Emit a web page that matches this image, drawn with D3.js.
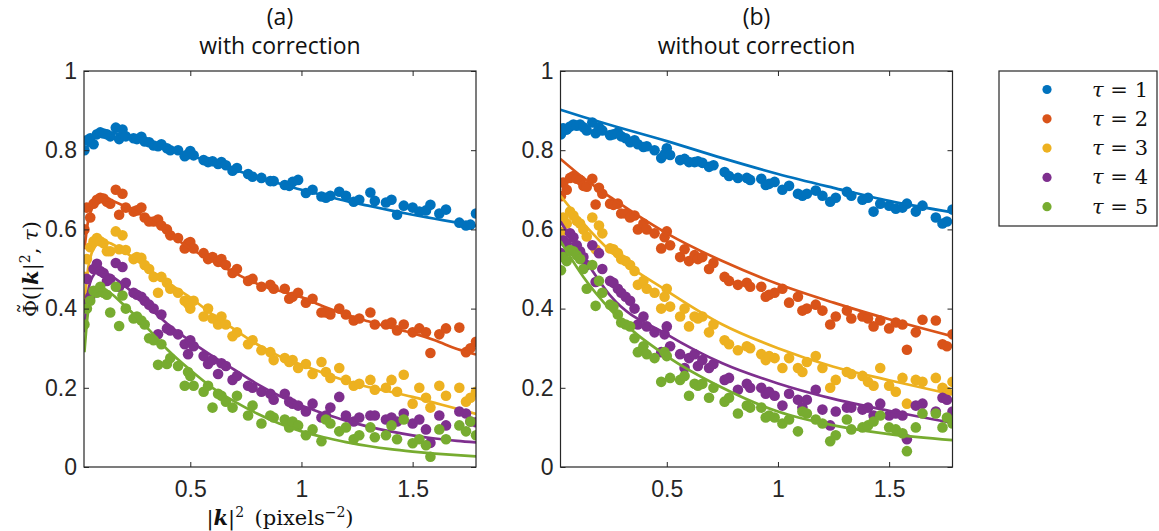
<!DOCTYPE html>
<html>
<head>
<meta charset="utf-8">
<script src="https://cdn.jsdelivr.net/npm/d3@7"></script>
<style>
  body { margin: 0; background: #fff; }
  svg { display: block; }
</style>
</head>
<body>
<div id="chart"></div>
<script>
// shared |k|^2 grid (pixels^-2)
var kk = [0.024, 0.035, 0.05, 0.065, 0.08, 0.095, 0.11, 0.125, 0.14, 0.165, 0.18, 0.195, 0.21, 0.245, 0.26, 0.28, 0.295, 0.315, 0.335, 0.355,
  0.37, 0.395, 0.41, 0.445, 0.475, 0.49, 0.5, 0.515, 0.56, 0.58, 0.6, 0.625, 0.64, 0.66, 0.69, 0.71, 0.76, 0.78, 0.82, 0.86,
  0.875, 0.925, 0.945, 0.96, 0.985, 1.02, 1.05, 1.09, 1.11, 1.13, 1.17, 1.2, 1.235, 1.26, 1.31, 1.33, 1.38, 1.405, 1.43, 1.46,
  1.5, 1.53, 1.56, 1.58, 1.62, 1.65, 1.71, 1.74, 1.76, 1.785];

// (a) with correction - measured points
var a_t1 = [0.80, 0.825, 0.83, 0.815, 0.84, 0.845, 0.842, 0.84, 0.835, 0.857, 0.828, 0.852, 0.835, 0.83, 0.828, 0.834, 0.822, 0.82, 0.812, 0.81,
  0.815, 0.805, 0.80, 0.80, 0.785, 0.79, 0.798, 0.787, 0.775, 0.77, 0.772, 0.765, 0.77, 0.762, 0.748, 0.755, 0.74, 0.733, 0.73, 0.722,
  0.722, 0.712, 0.71, 0.72, 0.725, 0.692, 0.70, 0.683, 0.68, 0.685, 0.695, 0.685, 0.67, 0.675, 0.693, 0.672, 0.668, 0.675, 0.637, 0.66,
  0.655, 0.645, 0.648, 0.662, 0.64, 0.65, 0.617, 0.61, 0.612, 0.64];
var a_t2 = [0.60, 0.655, 0.63, 0.665, 0.675, 0.68, 0.678, 0.67, 0.665, 0.70, 0.637, 0.69, 0.655, 0.645, 0.648, 0.655, 0.63, 0.62, 0.62, 0.625,
  0.61, 0.60, 0.585, 0.578, 0.552, 0.565, 0.568, 0.552, 0.54, 0.525, 0.53, 0.518, 0.525, 0.51, 0.49, 0.50, 0.47, 0.475, 0.455, 0.46,
  0.45, 0.45, 0.425, 0.43, 0.44, 0.415, 0.425, 0.39, 0.39, 0.385, 0.40, 0.385, 0.37, 0.375, 0.39, 0.36, 0.36, 0.365, 0.345, 0.36,
  0.34, 0.35, 0.34, 0.288, 0.335, 0.35, 0.352, 0.29, 0.30, 0.316];
var a_t3 = [0.48, 0.525, 0.555, 0.57, 0.578, 0.57, 0.565, 0.545, 0.545, 0.595, 0.55, 0.585, 0.548, 0.525, 0.53, 0.528, 0.51, 0.50, 0.48, 0.44,
  0.48, 0.465, 0.45, 0.44, 0.42, 0.412, 0.40, 0.42, 0.38, 0.40, 0.375, 0.36, 0.38, 0.36, 0.33, 0.34, 0.31, 0.32, 0.295, 0.29,
  0.27, 0.275, 0.265, 0.27, 0.25, 0.26, 0.235, 0.265, 0.24, 0.225, 0.25, 0.22, 0.205, 0.21, 0.22, 0.195, 0.20, 0.22, 0.19, 0.233,
  0.16, 0.20, 0.175, 0.15, 0.205, 0.18, 0.20, 0.165, 0.175, 0.19];
var a_t4 = [0.41, 0.475, 0.43, 0.50, 0.513, 0.495, 0.49, 0.47, 0.475, 0.515, 0.455, 0.505, 0.465, 0.44, 0.435, 0.43, 0.42, 0.41, 0.40, 0.335,
  0.385, 0.35, 0.345, 0.335, 0.31, 0.285, 0.32, 0.305, 0.28, 0.26, 0.27, 0.235, 0.262, 0.255, 0.22, 0.23, 0.205, 0.20, 0.19, 0.185,
  0.17, 0.185, 0.165, 0.16, 0.155, 0.14, 0.16, 0.125, 0.13, 0.15, 0.177, 0.13, 0.115, 0.125, 0.13, 0.13, 0.12, 0.125, 0.115, 0.135,
  0.11, 0.12, 0.095, 0.061, 0.13, 0.105, 0.14, 0.135, 0.115, 0.113];
var a_t5 = [0.36, 0.40, 0.42, 0.445, 0.44, 0.455, 0.44, 0.435, 0.39, 0.455, 0.356, 0.433, 0.40, 0.375, 0.38, 0.37, 0.36, 0.325, 0.32, 0.258,
  0.31, 0.26, 0.275, 0.255, 0.205, 0.24, 0.23, 0.205, 0.19, 0.205, 0.15, 0.185, 0.18, 0.165, 0.15, 0.18, 0.13, 0.155, 0.11, 0.13,
  0.125, 0.12, 0.10, 0.115, 0.105, 0.08, 0.095, 0.065, 0.12, 0.11, 0.09, 0.10, 0.07, 0.08, 0.1, 0.075, 0.08, 0.105, 0.07, 0.12,
  0.06, 0.07, 0.055, 0.026, 0.095, 0.07, 0.105, 0.09, 0.115, 0.08];

// (b) without correction - measured points
var b_t1 = [0.84, 0.855, 0.852, 0.86, 0.865, 0.862, 0.865, 0.858, 0.85, 0.87, 0.843, 0.858, 0.85, 0.838, 0.84, 0.845, 0.835, 0.83, 0.82, 0.825,
  0.815, 0.808, 0.81, 0.80, 0.78, 0.79, 0.805, 0.788, 0.775, 0.778, 0.77, 0.77, 0.772, 0.768, 0.758, 0.762, 0.745, 0.735, 0.73, 0.73,
  0.725, 0.728, 0.712, 0.715, 0.72, 0.70, 0.71, 0.69, 0.685, 0.69, 0.698, 0.685, 0.67, 0.68, 0.695, 0.685, 0.675, 0.68, 0.645, 0.665,
  0.66, 0.652, 0.655, 0.665, 0.645, 0.66, 0.63, 0.615, 0.62, 0.65];
var b_t2 = [0.684, 0.718, 0.70, 0.73, 0.735, 0.728, 0.725, 0.71, 0.708, 0.728, 0.663, 0.705, 0.69, 0.665, 0.662, 0.665, 0.64, 0.64, 0.63, 0.635,
  0.60, 0.615, 0.60, 0.59, 0.552, 0.58, 0.595, 0.56, 0.53, 0.55, 0.52, 0.535, 0.525, 0.53, 0.50, 0.515, 0.48, 0.47, 0.46, 0.465,
  0.455, 0.455, 0.43, 0.435, 0.44, 0.45, 0.415, 0.43, 0.395, 0.40, 0.41, 0.395, 0.36, 0.38, 0.395, 0.375, 0.38, 0.375, 0.355, 0.37,
  0.35, 0.365, 0.36, 0.296, 0.34, 0.372, 0.37, 0.31, 0.305, 0.335];
var b_t3 = [0.593, 0.63, 0.615, 0.645, 0.635, 0.622, 0.615, 0.60, 0.582, 0.63, 0.55, 0.61, 0.59, 0.552, 0.55, 0.54, 0.525, 0.52, 0.51, 0.495,
  0.46, 0.47, 0.45, 0.44, 0.40, 0.43, 0.45, 0.405, 0.38, 0.40, 0.355, 0.38, 0.375, 0.38, 0.34, 0.36, 0.32, 0.31, 0.295, 0.305,
  0.30, 0.285, 0.27, 0.28, 0.275, 0.25, 0.275, 0.25, 0.24, 0.265, 0.28, 0.25, 0.20, 0.22, 0.24, 0.235, 0.23, 0.215, 0.205, 0.25,
  0.205, 0.19, 0.225, 0.16, 0.22, 0.215, 0.225, 0.20, 0.19, 0.215];
var b_t4 = [0.54, 0.572, 0.565, 0.59, 0.58, 0.56, 0.545, 0.53, 0.51, 0.56, 0.467, 0.54, 0.50, 0.47, 0.465, 0.45, 0.44, 0.43, 0.42, 0.40,
  0.36, 0.38, 0.355, 0.34, 0.29, 0.335, 0.355, 0.305, 0.285, 0.25, 0.275, 0.285, 0.255, 0.27, 0.25, 0.26, 0.22, 0.225, 0.195, 0.21,
  0.20, 0.20, 0.185, 0.19, 0.18, 0.155, 0.185, 0.17, 0.15, 0.17, 0.195, 0.145, 0.105, 0.14, 0.15, 0.15, 0.145, 0.15, 0.13, 0.16,
  0.13, 0.135, 0.13, 0.07, 0.155, 0.16, 0.14, 0.175, 0.17, 0.14];
var b_t5 = [0.497, 0.53, 0.52, 0.548, 0.545, 0.535, 0.525, 0.50, 0.45, 0.51, 0.407, 0.47, 0.44, 0.41, 0.405, 0.385, 0.365, 0.36, 0.355, 0.325,
  0.29, 0.305, 0.285, 0.275, 0.215, 0.29, 0.28, 0.225, 0.22, 0.23, 0.18, 0.21, 0.205, 0.21, 0.175, 0.2, 0.165, 0.175, 0.135, 0.155,
  0.15, 0.15, 0.125, 0.13, 0.125, 0.11, 0.12, 0.09, 0.14, 0.135, 0.12, 0.11, 0.065, 0.08, 0.12, 0.095, 0.10, 0.105, 0.115, 0.13,
  0.10, 0.095, 0.085, 0.04, 0.10, 0.135, 0.135, 0.10, 0.125, 0.11];

// fitted curves, read at a few |k|^2 positions
var fitA_k = [0.024, 0.04, 0.06, 0.09, 0.12, 0.2, 0.3, 0.4, 0.5, 0.6, 0.7, 0.8, 0.9, 1.0, 1.1, 1.2, 1.3, 1.4, 1.5, 1.6, 1.7, 1.785];
var fitA_t1 = [0.79, 0.812, 0.83, 0.842, 0.845, 0.838, 0.825, 0.805, 0.787, 0.768, 0.75, 0.733, 0.716, 0.70, 0.686, 0.672, 0.66, 0.648, 0.637, 0.627, 0.617, 0.609];
var fitA_t2 = [0.55, 0.62, 0.655, 0.672, 0.675, 0.66, 0.63, 0.59, 0.552, 0.52, 0.49, 0.463, 0.445, 0.429, 0.405, 0.385, 0.368, 0.352, 0.338, 0.32, 0.298, 0.284];
var fitA_t3 = [0.41, 0.50, 0.545, 0.565, 0.568, 0.545, 0.505, 0.465, 0.428, 0.385, 0.347, 0.31, 0.28, 0.258, 0.237, 0.218, 0.202, 0.19, 0.177, 0.162, 0.147, 0.134];
var fitA_t4 = [0.34, 0.44, 0.48, 0.495, 0.49, 0.46, 0.41, 0.36, 0.318, 0.28, 0.245, 0.21, 0.18, 0.155, 0.135, 0.117, 0.102, 0.09, 0.08, 0.072, 0.066, 0.062];
var fitA_t5 = [0.29, 0.39, 0.43, 0.447, 0.445, 0.41, 0.355, 0.295, 0.245, 0.2, 0.165, 0.135, 0.11, 0.09, 0.075, 0.063, 0.053, 0.045, 0.039, 0.034, 0.03, 0.027];

var fitB_k = [0.022, 0.125, 0.25, 0.5, 0.75, 1.0, 1.25, 1.5, 1.785];
var fitB_t1 = [0.902, 0.884, 0.863, 0.823, 0.78, 0.74, 0.705, 0.672, 0.643];
var fitB_t2 = [0.778, 0.73, 0.68, 0.59, 0.52, 0.462, 0.415, 0.373, 0.33];
var fitB_t3 = [0.685, 0.615, 0.543, 0.445, 0.36, 0.30, 0.253, 0.219, 0.183];
var fitB_t4 = [0.62, 0.53, 0.43, 0.335, 0.262, 0.211, 0.172, 0.142, 0.111];
var fitB_t5 = [0.57, 0.48, 0.395, 0.28, 0.20, 0.14, 0.105, 0.083, 0.068];

var tauValues = ["1", "2", "3", "4", "5"];
var colors = ["#0072BD", "#D95319", "#EDB120", "#7E2F8E", "#77AC30"];
var panelLetters = ["(a)", "(b)"];
var panelTitles = ["with correction", "without correction"];
var xTicks = [0.5, 1, 1.5];
var xTickLabels = ["0.5", "1", "1.5"];
var yTicks = [0, 0.2, 0.4, 0.6, 0.8, 1];
var yTickLabels = ["0", "0.2", "0.4", "0.6", "0.8", "1"];
var xDomain = [0.022, 1.785];

var panelPts = [[a_t1, a_t2, a_t3, a_t4, a_t5], [b_t1, b_t2, b_t3, b_t4, b_t5]];
var panelFitK = [fitA_k, fitB_k];
var panelFit = [[fitA_t1, fitA_t2, fitA_t3, fitA_t4, fitA_t5], [fitB_t1, fitB_t2, fitB_t3, fitB_t4, fitB_t5]];

var W = 1159, H = 531;
var plotTop = 71, plotBottom = 467, ph = plotBottom - plotTop;
var lefts = [84, 560.5], pw = 392;
var axisColor = "#262626";
var sans = "'Liberation Sans', Arial, sans-serif";
var titleFont = "'Open Sans', 'Noto Sans', sans-serif";
var serif = "'DejaVu Serif', 'Liberation Serif', serif";

var svg = d3.select("#chart").append("svg")
  .attr("width", W).attr("height", H);

var defs = svg.append("defs");

panelPts.forEach(function(pts, p) {
  var x0 = lefts[p];
  var x = d3.scaleLinear().domain(xDomain).range([0, pw]);
  var y = d3.scaleLinear().domain([0, 1]).range([ph, 0]);
  var g = svg.append("g").attr("transform", "translate(" + x0 + "," + plotTop + ")");

  defs.append("clipPath").attr("id", "clip" + p)
    .append("rect").attr("width", pw).attr("height", ph);

  var plot = g.append("g").attr("clip-path", "url(#clip" + p + ")");
  var line = d3.line().curve(d3.curveMonotoneX)
    .x(function(d) { return x(d[0]); })
    .y(function(d) { return y(d[1]); });

  pts.forEach(function(vals, s) {
    plot.append("g").selectAll("circle")
      .data(kk.map(function(k, i) { return [k, vals[i]]; }))
      .enter().append("circle")
        .attr("cx", function(d) { return x(d[0]); })
        .attr("cy", function(d) { return y(d[1]); })
        .attr("r", 5.3)
        .attr("fill", colors[s]);
    plot.append("path")
      .datum(panelFitK[p].map(function(k, i) { return [k, panelFit[p][s][i]]; }))
      .attr("d", line)
      .attr("fill", "none")
      .attr("stroke", colors[s])
      .attr("stroke-width", 2.7);
  });

  // axes, ticks pointing inward
  var ax = g.append("g").attr("class", "axes");
  ax.append("g").attr("transform", "translate(0," + ph + ")")
    .call(d3.axisBottom(x).tickValues(xTicks).tickSize(-5).tickPadding(14)
      .tickFormat(function(d, i) { return xTickLabels[i]; }));
  ax.append("g")
    .call(d3.axisTop(x).tickValues(xTicks).tickSize(-5).tickFormat(""));
  ax.append("g")
    .call(d3.axisLeft(y).tickValues(yTicks).tickSize(-5).tickPadding(7)
      .tickFormat(function(d, i) { return yTickLabels[i]; }));
  ax.append("g").attr("transform", "translate(" + pw + ",0)")
    .call(d3.axisRight(y).tickValues(yTicks).tickSize(-5).tickFormat(""));
  ax.selectAll(".domain").remove();
  ax.selectAll(".tick line").attr("stroke", axisColor);
  ax.selectAll(".tick text").attr("fill", axisColor)
    .style("font-family", sans).style("font-size", "23px");
  g.append("rect").attr("width", pw).attr("height", ph)
    .attr("fill", "none").attr("stroke", axisColor).attr("stroke-width", 1.2);

  svg.append("text").attr("x", x0 + pw / 2).attr("y", 25)
    .attr("text-anchor", "middle").style("font-family", titleFont).style("font-size", "23px")
    .attr("fill", "#111").text(panelLetters[p]);
  svg.append("text").attr("x", x0 + pw / 2).attr("y", 54)
    .attr("text-anchor", "middle").style("font-family", titleFont).style("font-size", "23px")
    .attr("fill", "#111").text(panelTitles[p]);
});

// y label: Phi with a tilde on top
var yl = svg.append("text")
  .attr("transform", "translate(38," + ((plotTop + plotBottom) / 2) + ") rotate(-90)")
  .attr("text-anchor", "middle")
  .style("font-family", serif).style("font-size", "21px").attr("fill", "#111");
yl.append("tspan").text("\u03a6");
yl.append("tspan").attr("dx", -14).attr("dy", -5).text("\u02dc");
yl.append("tspan").attr("dx", 3).attr("dy", 5).text("(|");
yl.append("tspan").style("font-weight", "bold").style("font-style", "italic").text("k");
yl.append("tspan").text("|");
yl.append("tspan").attr("dy", -8).style("font-size", "14px").text("2");
yl.append("tspan").attr("dy", 8).text(", ");
yl.append("tspan").style("font-style", "italic").text("\u03c4");
yl.append("tspan").text(")");

// x label
var xl = svg.append("text")
  .attr("x", lefts[0] + pw / 2).attr("y", 525)
  .attr("text-anchor", "middle")
  .style("font-family", serif).style("font-size", "21px").attr("fill", "#111");
xl.append("tspan").text("|");
xl.append("tspan").style("font-weight", "bold").style("font-style", "italic").text("k");
xl.append("tspan").text("|");
xl.append("tspan").attr("dy", -8).style("font-size", "14px").text("2");
xl.append("tspan").attr("dy", 8).text("\u2002(pixels");
xl.append("tspan").attr("dy", -8).style("font-size", "14px").text("\u22122");
xl.append("tspan").attr("dy", 8).text(")");

// legend
var lg = svg.append("g").attr("transform", "translate(999,71)");
lg.append("rect").attr("width", 158).attr("height", 155)
  .attr("fill", "#fff").attr("stroke", axisColor).attr("stroke-width", 1.2);
tauValues.forEach(function(v, i) {
  var row = lg.append("g").attr("transform", "translate(0," + (18.5 + i * 29.3) + ")");
  row.append("circle").attr("cx", 48).attr("cy", 0).attr("r", 4.6).attr("fill", colors[i]);
  var t = row.append("text").attr("x", 149).attr("y", 7).attr("text-anchor", "end")
    .style("font-family", serif).style("font-size", "21px").attr("fill", "#111");
  t.append("tspan").style("font-style", "italic").text("\u03c4");
  t.append("tspan").text(" = " + v);
});
</script>
</body>
</html>
